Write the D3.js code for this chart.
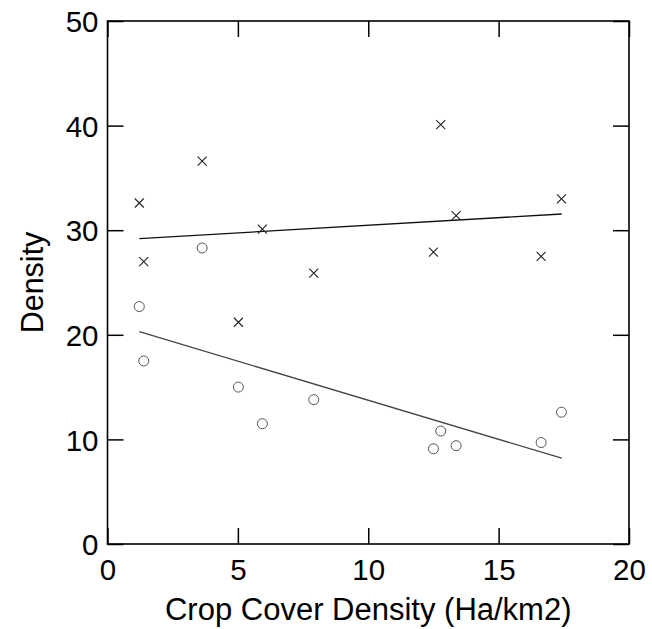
<!DOCTYPE html>
<html>
<head>
<meta charset="utf-8">
<script src="https://cdn.jsdelivr.net/npm/d3@7"></script>
<style>
  body { margin: 0; background: #fff; }
  text { font-family: "Liberation Sans", Arial, sans-serif; }
</style>
</head>
<body>
<div id="chart"></div>
<script>
// crop cover density values, one per site
var cropCover = [1.22, 1.39, 3.63, 5.02, 5.94, 7.91, 12.50, 12.78, 13.37, 16.63, 17.41];
// the "x" marker series
var crossDensity = [32.6, 27.0, 36.6, 21.2, 30.1, 25.9, 27.9, 40.1, 31.4, 27.5, 33.0];
// the open circle series
var circleDensity = [22.7, 17.5, 28.3, 15.0, 11.5, 13.8, 9.1, 10.8, 9.4, 9.7, 12.6];
// fitted lines (start and end)
var fitX = [1.22, 17.42];
var crossFit = [29.2, 31.55];
var circleFit = [20.3, 8.2];

var xTicks = [0, 5, 10, 15, 20];
var yTicks = [0, 10, 20, 30, 40, 50];

var margin = {top: 21, right: 23, bottom: 85, left: 107.5}
  , width = 652 - margin.left - margin.right
  , height = 629 - margin.top - margin.bottom;

var x = d3.scaleLinear().domain([0, 20]).range([0, width]);
var y = d3.scaleLinear().domain([0, 50]).range([height, 0]);

var svg = d3.select('#chart')
  .append('svg')
  .attr('width', 652)
  .attr('height', 629);

var main = svg.append('g')
  .attr('transform', 'translate(' + margin.left + ',' + margin.top + ')');

// axes with inward ticks on all four sides
function styleAxis(g) {
  g.select('.domain').remove();
  g.selectAll('.tick line').attr('stroke', '#000').attr('stroke-width', 1.5);
  g.selectAll('.tick text').style('font-size', '29.5px').attr('fill', '#000');
}

main.append('g')
  .attr('transform', 'translate(0,' + height + ')')
  .call(d3.axisBottom(x).tickValues(xTicks).tickSizeInner(-16).tickSizeOuter(0).tickPadding(15))
  .call(styleAxis);

main.append('g')
  .call(d3.axisLeft(y).tickValues(yTicks).tickSizeInner(-16).tickSizeOuter(0).tickPadding(9))
  .call(styleAxis)
  .selectAll('.tick text').attr('dy', '0.36em');

main.append('g')
  .call(d3.axisTop(x).tickValues(xTicks).tickSizeInner(-16).tickSizeOuter(0).tickFormat(''))
  .call(styleAxis);

main.append('g')
  .attr('transform', 'translate(' + width + ',0)')
  .call(d3.axisRight(y).tickValues(yTicks).tickSizeInner(-16).tickSizeOuter(0).tickFormat(''))
  .call(styleAxis);

// frame
main.append('rect')
  .attr('width', width)
  .attr('height', height)
  .attr('fill', 'none')
  .attr('stroke', '#000')
  .attr('stroke-width', 1.6);

var line = d3.line()
  .x(function(d) { return x(d[0]); })
  .y(function(d) { return y(d[1]); });

main.append('path')
  .datum(d3.zip(fitX, crossFit))
  .attr('fill', 'none')
  .attr('stroke', '#111')
  .attr('stroke-width', 1.3)
  .attr('d', line);

main.append('path')
  .datum(d3.zip(fitX, circleFit))
  .attr('fill', 'none')
  .attr('stroke', '#444')
  .attr('stroke-width', 1.3)
  .attr('d', line);

// open circles
main.append('g').selectAll('circle')
  .data(d3.zip(cropCover, circleDensity))
  .enter().append('circle')
  .attr('cx', function(d) { return x(d[0]); })
  .attr('cy', function(d) { return y(d[1]); })
  .attr('r', 5)
  .attr('fill', 'none')
  .attr('stroke', '#555')
  .attr('stroke-width', 1);

// x markers
var s = 4.5;
main.append('g').selectAll('path')
  .data(d3.zip(cropCover, crossDensity))
  .enter().append('path')
  .attr('d', function(d) {
    var cx = x(d[0]), cy = y(d[1]);
    return 'M' + (cx - s) + ',' + (cy - s) + 'L' + (cx + s) + ',' + (cy + s) +
           'M' + (cx - s) + ',' + (cy + s) + 'L' + (cx + s) + ',' + (cy - s);
  })
  .attr('stroke', '#222')
  .attr('stroke-width', 1.1)
  .attr('fill', 'none');

// axis titles
svg.append('text')
  .attr('text-anchor', 'middle')
  .attr('x', margin.left + width / 2)
  .attr('y', 620)
  .style('font-size', '31px')
  .text('Crop Cover Density (Ha/km2)');

svg.append('text')
  .attr('text-anchor', 'middle')
  .attr('transform', 'translate(43,' + (margin.top + height / 2) + ')rotate(-90)')
  .style('font-size', '30.5px')
  .text('Density');
</script>
</body>
</html>
